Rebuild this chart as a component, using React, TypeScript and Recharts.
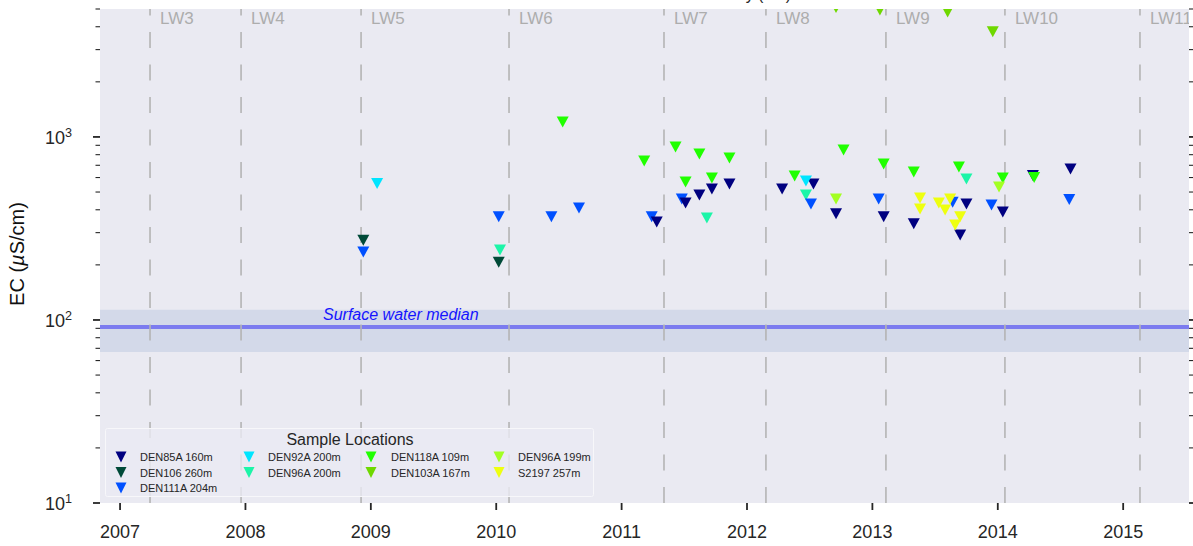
import React from "react"
import {
  ScatterChart,
  Scatter,
  XAxis,
  YAxis,
  CartesianGrid,
  ReferenceLine,
  ReferenceArea,
} from "recharts"

const FONT = '"Liberation Sans", Arial, sans-serif'
const INK = "#262626"

// sample dates (decimal years) and EC values (µS/cm)
const den85aYears = [2011.28, 2011.51, 2011.62, 2011.72, 2011.86, 2012.28, 2012.53, 2012.71, 2013.09, 2013.33, 2013.75, 2013.7, 2014.04, 2014.28, 2014.58]
const den85aEC = [343, 436, 482, 520, 553, 520, 553, 380, 366, 335, 430, 291, 389, 615, 668]

const den106Years = [2008.94, 2010.02]
const den106EC = [273, 207]

const den111aYears = [2008.94, 2010.02, 2010.44, 2010.66, 2011.24, 2011.48, 2012.51, 2013.05, 2013.64, 2013.95, 2014.57]
const den111aEC = [235, 366, 366, 409, 366, 458, 430, 458, 440, 425, 455]

const den92aYears = [2009.05, 2012.47]
const den92aEC = [556, 575]

const den96a200Years = [2010.03, 2011.68, 2012.47, 2013.75]
const den96a200EC = [241, 361, 482, 589]

const den118aYears = [2010.53, 2011.18, 2011.43, 2011.62, 2011.86, 2011.51, 2011.72, 2012.38, 2012.77, 2013.09, 2013.33, 2013.69, 2014.04, 2014.29]
const den118aEC = [1208, 739, 881, 807, 767, 567, 597, 612, 849, 711, 644, 685, 597, 600]

const den103aYears = [2012.71, 2013.06, 2013.6, 2013.96]
const den103aEC = [5090, 4940, 4820, 3750]

const den96a199Years = [2012.71, 2014.01]
const den96a199EC = [458, 533]

const s2197Years = [2013.38, 2013.38, 2013.53, 2013.62, 2013.58, 2013.7, 2013.66]
const s2197EC = [464, 404, 436, 458, 399, 366, 330]

// longwall panel start dates
const longwallNames = ["LW3", "LW4", "LW5", "LW6", "LW7", "LW8", "LW9", "LW10", "LW11"]
const longwallYears = [2007.239, 2007.965, 2008.922, 2010.102, 2011.338, 2012.151, 2013.108, 2014.057, 2015.134]

const surfaceMedian = 91.6
const surfaceLow = 66.8
const surfaceHigh = 113.6

const yearTicks = [2007, 2008, 2009, 2010, 2011, 2012, 2013, 2014, 2015]
const majorTicks = [10, 100, 1000]
const minorTicks = [20, 30, 40, 50, 60, 70, 80, 90, 200, 300, 400, 500, 600, 700, 800, 900, 2000, 3000, 4000, 5000]
const ecTicks = [...majorTicks, ...minorTicks].sort((a, b) => a - b)

const series = [
  { name: "DEN85A 160m", color: "#000080", years: den85aYears, ec: den85aEC, z: 3 },
  { name: "DEN106 260m", color: "#004a38", years: den106Years, ec: den106EC, z: 1 },
  { name: "DEN111A 204m", color: "#0050ff", years: den111aYears, ec: den111aEC, z: 2 },
  { name: "DEN92A 200m", color: "#00e5ff", years: den92aYears, ec: den92aEC, z: 4 },
  { name: "DEN96A 200m", color: "#1cf5a8", years: den96a200Years, ec: den96a200EC, z: 0 },
  { name: "DEN118A 109m", color: "#20ff00", years: den118aYears, ec: den118aEC, z: 5 },
  { name: "DEN103A 167m", color: "#6fd800", years: den103aYears, ec: den103aEC, z: 6 },
  { name: "DEN96A 199m", color: "#a3ff22", years: den96a199Years, ec: den96a199EC, z: 7 },
  { name: "S2197 257m", color: "#eeff10", years: s2197Years, ec: s2197EC, z: 8 },
]

// legend is laid out column-first, 3 rows
const legendCols = [[0, 1, 2], [3, 4], [5, 6], [7, 8]]

function triPath(cx: number, cy: number, w = 12, h = 11) {
  return `M${cx - w / 2},${cy - h / 2}L${cx + w / 2},${cy - h / 2}L${cx},${cy + h / 2}Z`
}

const Triangle = (props: any) => {
  const { cx, cy, fill } = props
  if (cx == null || cy == null) return null
  return <path d={triPath(cx, cy)} fill={fill} />
}

const XTick = (props: any) => {
  const { x, y, payload } = props
  return (
    <g>
      <line x1={x} x2={x} y1={y} y2={y + 7} stroke={INK} strokeWidth={1.8} />
      <text x={x} y={y + 35} textAnchor="middle" fontSize={18} fontFamily={FONT} fill={INK}>
        {payload.value}
      </text>
    </g>
  )
}

const YTick = (props: any) => {
  const { x, y, payload } = props
  const v = payload.value
  const major = majorTicks.includes(v)
  return (
    <g>
      <line x1={x - (major ? 7 : 4.5)} x2={x} y1={y} y2={y} stroke={INK} strokeWidth={major ? 1.8 : 1.1} />
      {major && (
        <text x={x - 55} y={y + 7} fontSize={18} fontFamily={FONT} fill={INK}>
          10
          <tspan dy={-7} fontSize={12.6}>
            {Math.round(Math.log10(v))}
          </tspan>
        </text>
      )}
    </g>
  )
}

const RightTick = (props: any) => {
  const { x, y, payload } = props
  const major = majorTicks.includes(payload.value)
  return <line x1={x} x2={x + (major ? 7 : 4.5)} y1={y} y2={y} stroke={INK} strokeWidth={major ? 1.8 : 1.1} />
}

export default function App() {
  const drawOrder = [...series].sort((a, b) => a.z - b.z)
  return (
    <div style={{ position: "absolute", left: 0, top: 0, width: 1193, height: 546, background: "#fff" }}>
      <ScatterChart width={1193} height={546} margin={{ top: 9, right: 0, bottom: 0, left: 0 }}>
        <CartesianGrid fill="#eaeaf2" horizontal={false} vertical={false} stroke="none" />
        <XAxis
          dataKey="x"
          type="number"
          domain={[2006.84, 2015.525]}
          allowDataOverflow
          ticks={yearTicks}
          interval={0}
          height={43}
          axisLine={false}
          tickLine={false}
          tickSize={0}
          tickMargin={0}
          tick={<XTick />}
        />
        <YAxis
          dataKey="y"
          type="number"
          scale="log"
          domain={[10, 5000]}
          allowDataOverflow
          ticks={ecTicks}
          interval={0}
          width={100}
          axisLine={false}
          tickLine={false}
          tickSize={0}
          tickMargin={0}
          tick={<YTick />}
        />
        <YAxis
          yAxisId="right"
          orientation="right"
          type="number"
          scale="log"
          domain={[10, 5000]}
          allowDataOverflow
          ticks={ecTicks}
          interval={0}
          width={4}
          axisLine={false}
          tickLine={false}
          tickSize={0}
          tickMargin={0}
          tick={<RightTick />}
        />
        <ReferenceArea y1={surfaceLow} y2={surfaceHigh} fill="#d3d9e9" fillOpacity={1} stroke="none" />
        <ReferenceLine
          y={surfaceMedian}
          stroke="#7b7bef"
          strokeWidth={4}
          label={(p: any) => (
            <text
              x={p.viewBox.x + 223}
              y={p.viewBox.y - 7}
              fontSize={16}
              fontStyle="italic"
              fontFamily={FONT}
              fill="#1414ff"
            >
              Surface water median
            </text>
          )}
        />
        {longwallYears.map((yr, i) => (
          <ReferenceLine
            key={longwallNames[i]}
            x={yr}
            stroke="#b4b4b4"
            strokeWidth={1.6}
            strokeDasharray="16 16.5"
            label={(p: any) => (
              // nested svg clips the label at the plot's right edge
              <svg x={0} y={0} width={1189} height={546} overflow="hidden">
                <text x={p.viewBox.x + 10} y={p.viewBox.y + 15} fontSize={17} fontFamily={FONT} fill="#adadad">
                  {longwallNames[i]}
                </text>
              </svg>
            )}
          />
        ))}
        {drawOrder.map((s) => (
          <Scatter
            key={s.name}
            name={s.name}
            data={s.years.map((x, i) => ({ x, y: s.ec[i] }))}
            fill={s.color}
            shape={<Triangle />}
            isAnimationActive={false}
          />
        ))}
      </ScatterChart>
      <svg
        width={1193}
        height={546}
        style={{ position: "absolute", left: 0, top: 0, pointerEvents: "none" }}
      >
        <text x={791} y={0} textAnchor="end" fontSize={16} fontFamily={FONT} fill={INK}>
          Electrical Conductivity (EC)
        </text>
        <text transform="translate(24,254) rotate(-90)" textAnchor="middle" fontSize={20} fontFamily={FONT} fill="#111">
          EC (<tspan fontStyle="italic">µ</tspan>S/cm)
        </text>
        <g transform="translate(105,428)">
          <rect x={0.5} y={0.5} width={488} height={68} rx={2} fill="rgba(234,234,242,0.8)" stroke="#f7f7fa" />
          <text x={245} y={16.5} textAnchor="middle" fontSize={16} fontFamily={FONT} fill={INK}>
            Sample Locations
          </text>
          {legendCols.map((col, c) =>
            col.map((idx, r) => {
              const s = series[idx]
              const mx = [16, 144, 266, 394][c]
              const tx = [35, 163, 286, 413][c]
              const my = 29 + r * 15.5
              return (
                <g key={s.name}>
                  <path d={triPath(mx, my, 11, 11)} fill={s.color} />
                  <text x={tx} y={my + 4} fontSize={11} fontFamily={FONT} fill={INK}>
                    {s.name}
                  </text>
                </g>
              )
            })
          )}
        </g>
      </svg>
    </div>
  )
}
